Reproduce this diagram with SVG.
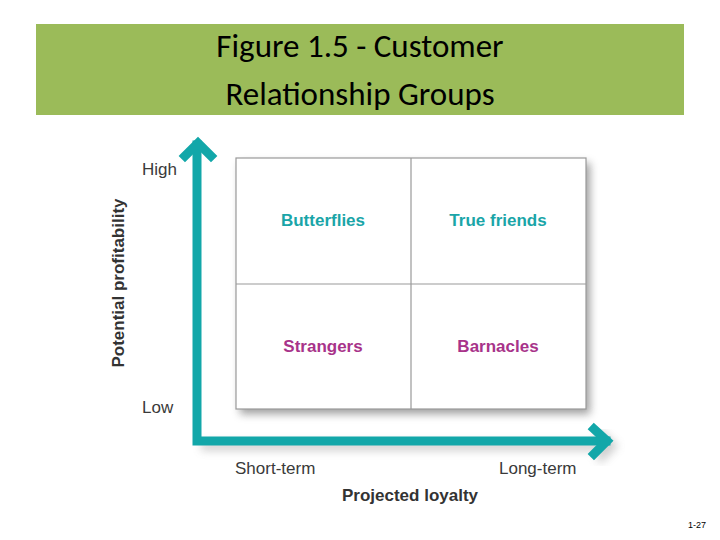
<svg xmlns="http://www.w3.org/2000/svg" width="720" height="540" viewBox="0 0 720 540">
<defs>
<style>
.ax{fill:none;stroke:#12a7a9;stroke-width:9;stroke-linecap:square;stroke-linejoin:miter}
.lbl{font-family:"Liberation Sans",Arial,sans-serif;font-size:17px;fill:#3a3a3a}
.q{font-family:"Liberation Sans",Arial,sans-serif;font-size:17px;font-weight:bold;text-anchor:middle}
.cell{fill:#fff;stroke:#999;stroke-width:1.2}
</style>
<filter id="sh" x="-10%" y="-10%" width="130%" height="130%"><feGaussianBlur stdDeviation="4"/></filter>
</defs>
<rect width="720" height="540" fill="#fff"/>
<g id="title">
<rect x="36" y="24" width="648" height="91" fill="#9bbb59"/>
<text x="360" y="57" font-family="Calibri,Carlito,'Liberation Sans',sans-serif" font-size="33" text-anchor="middle" fill="#000">Figure 1.5 - Customer</text>
<text x="360" y="105" font-family="Calibri,Carlito,'Liberation Sans',sans-serif" font-size="33" text-anchor="middle" fill="#000">Relationship Groups</text>
</g>
<g id="connectors">
<path d="M201,446 L612,446 M598,432 L612,446 L598,460" stroke="#888" stroke-width="9" fill="none" opacity="0.4" filter="url(#sh)"/>
<path class="ax" d="M197,145 L197,441 L606,441"/>
<path class="ax" d="M185,156 L198,143 L211,156"/>
<path class="ax" d="M594,429 L607,441 L594,454"/>
</g>
<g id="grid">
<rect x="240" y="163" width="350" height="251" fill="#777" filter="url(#sh)" opacity="0.7"/>
<rect class="cell" x="236" y="158" width="350" height="251"/>
<line x1="411" y1="158" x2="411" y2="409" stroke="#999" stroke-width="1.2"/>
<line x1="236" y1="284" x2="586" y2="284" stroke="#999" stroke-width="1.2"/>
</g>
<g id="butterflies"><text class="q" x="323" y="226" fill="#1aa5a8">Butterflies</text></g>
<g id="true-friends"><text class="q" x="498" y="226" fill="#1aa5a8">True friends</text></g>
<g id="strangers"><text class="q" x="323" y="352" fill="#a8338a">Strangers</text></g>
<g id="barnacles"><text class="q" x="498" y="352" fill="#a8338a">Barnacles</text></g>
<g id="labels">
<text class="lbl" x="142" y="175">High</text>
<text class="lbl" x="142" y="413">Low</text>
<text class="lbl" x="235" y="474">Short-term</text>
<text class="lbl" x="499" y="474">Long-term</text>
<text x="410" y="501" font-family="'Liberation Sans',Arial,sans-serif" font-size="17" font-weight="bold" fill="#333" text-anchor="middle">Projected loyalty</text>
<text transform="translate(124,283) rotate(-90)" font-family="'Liberation Sans',Arial,sans-serif" font-size="17" font-weight="bold" fill="#333" text-anchor="middle">Potential profitability</text>
<text x="706" y="528" font-family="'Liberation Sans',Arial,sans-serif" font-size="9" fill="#000" text-anchor="end">1-27</text>
</g>
</svg>
